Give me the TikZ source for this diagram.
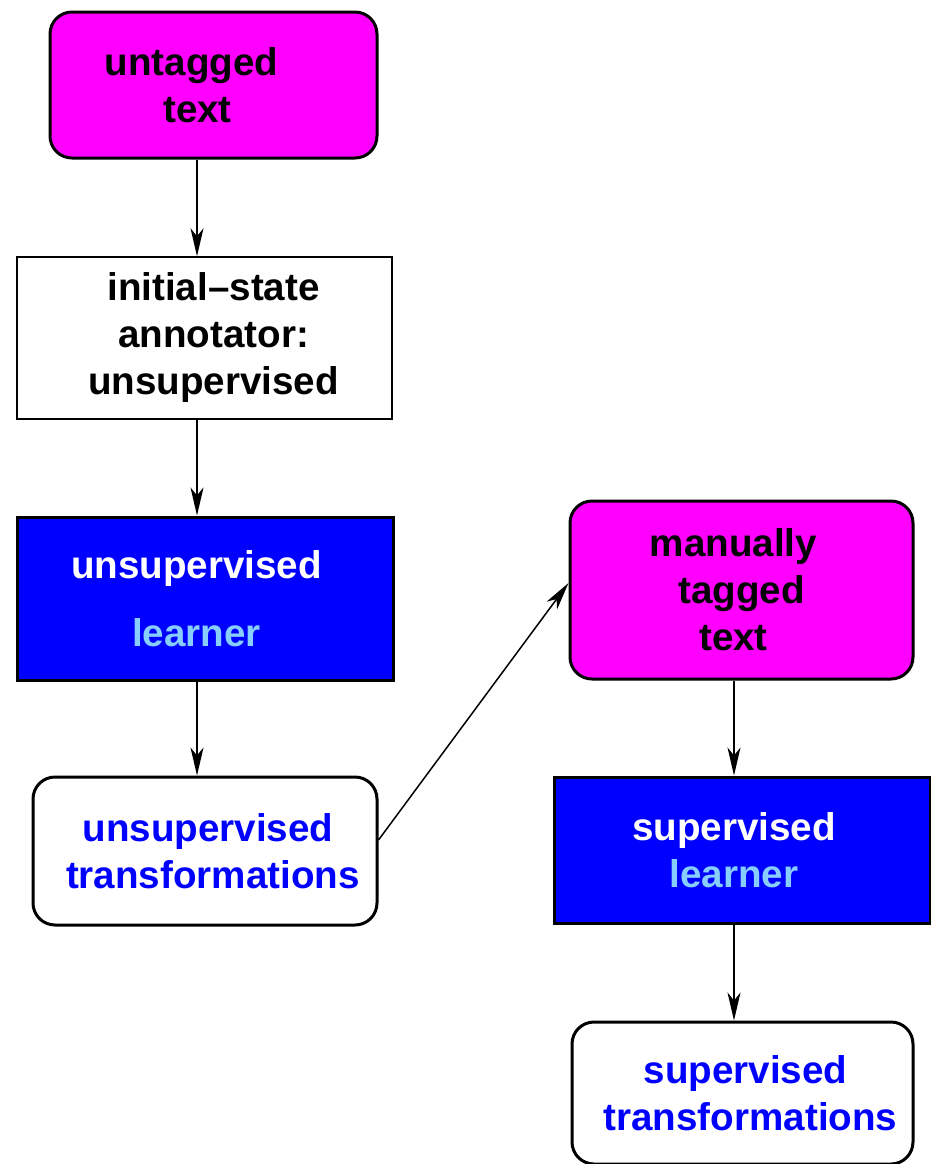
\documentclass[tikz,border=0pt]{standalone}
\usepackage{fontspec}
\setmainfont{Liberation Sans}
\usetikzlibrary{arrows.meta}
\definecolor{rosa}{RGB}{255,0,255}
\definecolor{azul}{RGB}{0,0,255}
\definecolor{celeste}{RGB}{135,206,255}
\tikzset{
  box/.style={draw, line width=1.5pt, align=center, inner sep=0pt, font=\fontsize{19.3}{23.5}\selectfont\bfseries},
  tagbox/.style={box, fill=rosa, rounded corners=11pt},
  annbox/.style={box, line width=0.75pt, fill=white},
  lrnbox/.style={box, fill=azul, text=white},
  trbox/.style={box, fill=white, rounded corners=11pt, text=azul},
  fl/.style={-{Stealth[length=14pt, width=6.5pt, inset=4pt]}, line width=0.75pt},
}

\begin{document}
\begin{tikzpicture}[x=0.5pt,y=-0.5pt]
  \useasboundingbox (0,0) rectangle (931,1164);
  \node[tagbox, minimum width=163.5pt, minimum height=73pt] (untagged) at (213.5,85)
    {untagged\hspace*{22pt}\\text\hspace*{16pt}};
  \node[annbox, minimum width=187.5pt, minimum height=81pt] (initstate) at (204.5,338)
    {\hspace*{9pt}initial–state\\\hspace*{9pt}annotator:\\\hspace*{9pt}unsupervised};
  \node[lrnbox, minimum width=188pt, minimum height=81.5pt] (unsuplearner) at (205,598.5)
    {unsupervised\hspace*{8.5pt}\\[10.5pt]\textcolor{celeste}{learner}\hspace*{8.5pt}};
  \node[trbox, minimum width=172pt, minimum height=74pt] (unsuptrans) at (205,851)
    {\hspace*{3pt}unsupervised\\\hspace*{8pt}transformations};
  \node[tagbox, minimum width=171.5pt, minimum height=89pt] (manual) at (741.5,590)
    {manually\hspace*{8pt}\\tagged\hspace*{8pt}\\text\hspace*{8pt}};
  \node[lrnbox, minimum width=188pt, minimum height=73pt] (suplearner) at (742,850)
    {supervised\hspace*{8pt}\\\textcolor{celeste}{learner}\hspace*{8pt}};
  \node[trbox, minimum width=170.5pt, minimum height=71pt] (suptrans) at (742.5,1093)
    {\hspace*{3pt}supervised\\\hspace*{8pt}transformations};
  \coordinate (lx) at (197,0);
  \coordinate (rx) at (734,0);
  \draw[fl] (untagged.south -| lx) -- (initstate.north -| lx);
  \draw[fl] (initstate.south -| lx) -- (unsuplearner.north -| lx);
  \draw[fl] (unsuplearner.south -| lx) -- (unsuptrans.north -| lx);
  \draw[fl] ([yshift=5.5pt]unsuptrans.east) -- ([yshift=3.5pt]manual.west);
  \draw[fl] (manual.south -| rx) -- (suplearner.north -| rx);
  \draw[fl] (suplearner.south -| rx) -- (suptrans.north -| rx);
\end{tikzpicture}
\end{document}
